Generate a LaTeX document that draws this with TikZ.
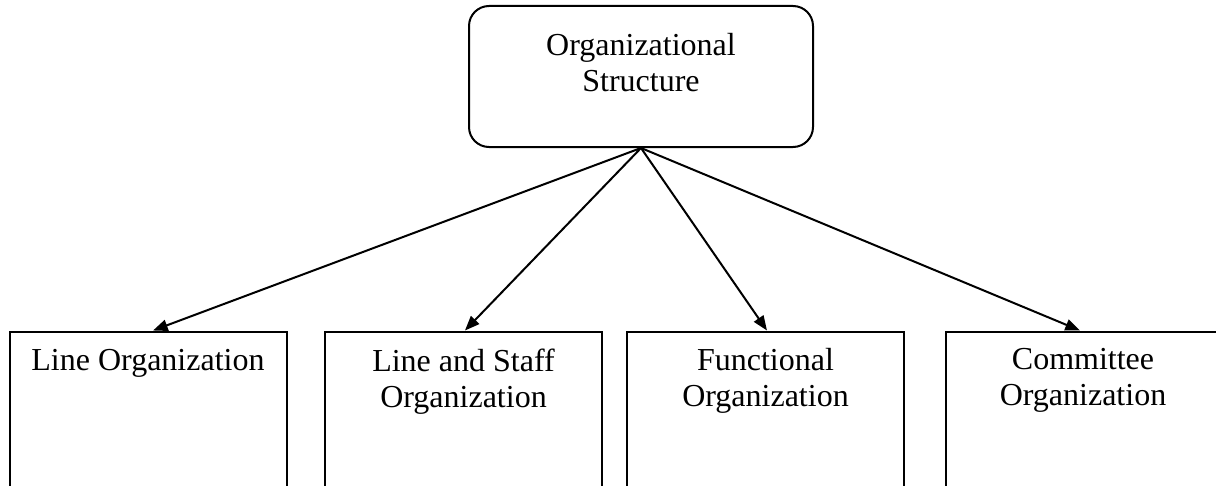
\documentclass[tikz,border=0pt]{standalone}
\usepackage{fontspec}
\setmainfont{Liberation Serif}
\usetikzlibrary{arrows.meta}
\tikzset{
  every picture/.style={x=0.75pt,y=-0.75pt},
  topbox/.style={draw=black,line width=1.5pt,rounded corners=15pt,
    minimum width=258pt,minimum height=105.75pt,inner sep=0pt},
  lowbox/.style={draw=black,line width=1.5pt,anchor=north,
    minimum width=207.75pt,minimum height=127.5pt,inner sep=0pt},
  caption/.style={anchor=north,inner sep=0pt,align=center,
    font=\fontsize{24pt}{27pt}\selectfont},
  arr/.style={line width=1.5pt,-{Triangle[length=11pt,width=8.5pt]}}
}
\begin{document}
\begin{tikzpicture}
\clip (0,0) rectangle (1216,485);
\fill[white] (0,0) rectangle (1216,485);

% root of the hierarchy
\node[topbox] (root) at (641,76.5) {};
\node[caption] (rootT) at (641,33) {Organizational\\Structure};

% the four kinds of organization
\node[lowbox] (line)  at (148.5,330.5) {};
\node[lowbox] (staff) at (463.5,330.5) {};
\node[lowbox] (func)  at (765.5,330.5) {};
\node[lowbox] (comm)  at (1084.5,330.5) {};

\node[caption] (lineT)  at (148,349.5) {Line Organization};
\node[caption] (staffT) at (463.5,348.5) {Line and Staff\\Organization};
\node[caption] (funcT)  at (765.5,348.5) {Functional\\Organization};
\node[caption] (commT)  at (1083,348.5) {Committee\\Organization};

% connectors
\draw[arr] (root.south) -- ([xshift=3.4pt]line.north);
\draw[arr] (root.south) -- ([xshift=1.1pt]staff.north);
\draw[arr] (root.south) -- ([xshift=1.1pt]func.north);
\draw[arr] (root.south) -- ([xshift=-3.4pt]comm.north);
\end{tikzpicture}
\end{document}
